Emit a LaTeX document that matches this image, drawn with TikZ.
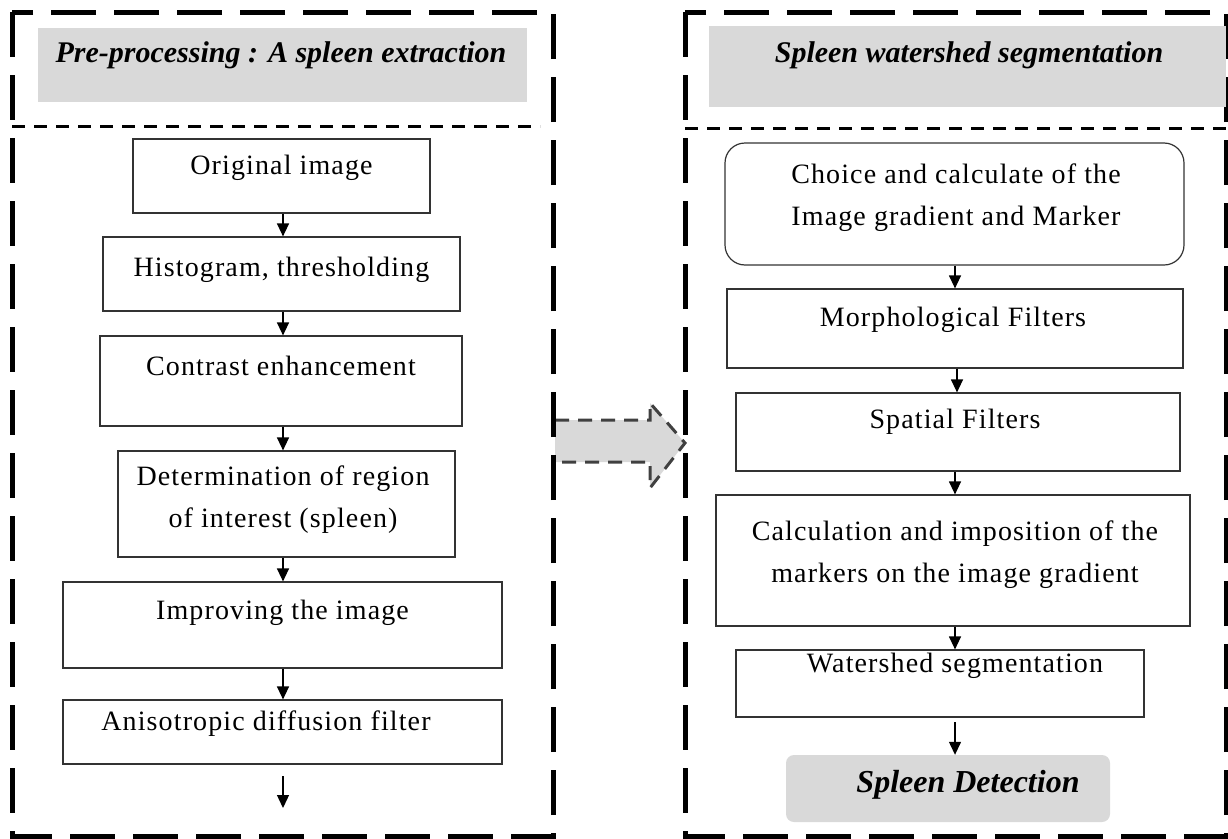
\documentclass[tikz,border=0pt]{standalone}
\usepackage{fontspec}
\setmainfont{Liberation Serif}
\newfontfamily\stepfont[LetterSpace=4]{Liberation Serif}
\usetikzlibrary{arrows.meta}
\definecolor{headgray}{RGB}{217,217,217}
\definecolor{arrgray}{RGB}{64,64,64}
\tikzset {
  % outer dashed frames
  frame/.style = {
    draw = black,
    line width = 5pt,
    dash pattern = on 45pt off 18pt
  },
  sep line/.style = {
    draw = black,
    line width = 3pt,
    dash pattern = on 13pt off 9pt
  },
  head box/.style = {
    fill = headgray,
    inner sep = 0
  },
  head text/.style = {
    font = \fontsize{30}{34}\selectfont\bfseries\itshape
  },
  % processing step
  stepbox/.style = {
    draw = black!80,
    line width = 1.2pt,
    inner sep = 0
  },
  steptext/.style = {
    font = \stepfont\fontsize{28}{42}\selectfont,
    align = center,
    inner sep = 0
  },
  arr/.style = {
    draw = black,
    line width = 1.3pt,
    -{Triangle[length=13pt,width=12pt]}
  }
}

\begin{document}
\begin{tikzpicture}[x=1pt, y=-1pt]
  \useasboundingbox (0,0) rectangle (1228,838);

  % arrow between the two stages
  \fill[headgray] (555,420) -- (650,420) -- (650,403) -- (685,443)
    -- (650,488) -- (650,462) -- (555,462) -- cycle;
  \draw[arrgray, line width=3pt, dash pattern=on 14pt off 9pt]
    (555,420) -- (650,420) -- (650,403) -- (685,443)
    -- (650,488) -- (650,462) -- (555,462);

  % left stage
  \draw[frame] (12,12) rectangle (553,836);
  \node[head box, minimum width=489pt, minimum height=74pt] (lhead) at (282.5,65) {};
  \node[head text] (lheadt) at (281,55) {Pre-processing : A spleen extraction};
  \draw[sep line] (12,126) -- (540,126);

  \node[stepbox, minimum width=297pt, minimum height=74pt] (a1) at (281.5,176) {};
  \node[steptext] (a1t) at (281.5,168) {Original image};
  \node[stepbox, minimum width=357pt, minimum height=74pt] (a2) at (281.5,274) {};
  \node[steptext] (a2t) at (281.5,270) {Histogram, thresholding};
  \node[stepbox, minimum width=362pt, minimum height=90pt] (a3) at (281,381) {};
  \node[steptext] (a3t) at (281,366) {Contrast enhancement};
  \node[stepbox, minimum width=337pt, minimum height=106pt] (a4) at (286.5,504) {};
  \node[steptext] (a4t) at (283,499.5) {Determination of region\\of interest (spleen)};
  \node[stepbox, minimum width=439pt, minimum height=86pt] (a5) at (282.5,625) {};
  \node[steptext] (a5t) at (282.5,613) {Improving the image};
  \node[stepbox, minimum width=439pt, minimum height=64pt] (a6) at (282.5,732) {};
  \node[steptext] (a6t) at (266,724) {Anisotropic diffusion filter};
  \coordinate (lstart) at (283,776);
  \coordinate (lend) at (283,808);

  \draw[arr] (a1.south -| 283,0) -- (a2.north -| 283,0);
  \draw[arr] (a2.south -| 283,0) -- (a3.north -| 283,0);
  \draw[arr] (a3.south -| 283,0) -- (a4.north -| 283,0);
  \draw[arr] (a4.south -| 283,0) -- (a5.north -| 283,0);
  \draw[arr] (a5.south -| 283,0) -- (a6.north -| 283,0);
  \draw[arr] (lstart) -- (lend);

  % right stage
  \draw[frame] (685,12) rectangle (1226,836);
  \node[head box, minimum width=517pt, minimum height=81pt] (rhead) at (967.5,66.5) {};
  \node[head text] (rheadt) at (969,55) {Spleen watershed segmentation};
  \draw[sep line] (685,128) -- (1228,128);

  \node[stepbox, rounded corners=20pt, minimum width=459pt, minimum height=122pt] (b1) at (954.5,204) {};
  \node[steptext] (b1t) at (956,198) {Choice and calculate of the\\Image gradient and Marker};
  \node[stepbox, minimum width=456pt, minimum height=79pt] (b2) at (955,328.5) {};
  \node[steptext] (b2t) at (953,320) {Morphological Filters};
  \node[stepbox, minimum width=444pt, minimum height=78pt] (b3) at (958,432) {};
  \node[steptext] (b3t) at (955,422) {Spatial Filters};
  \node[stepbox, minimum width=474pt, minimum height=131pt] (b4) at (953,560.5) {};
  \node[steptext] (b4t) at (955,555) {Calculation and imposition of the\\markers on the image gradient};
  \node[stepbox, minimum width=408pt, minimum height=67pt] (b5) at (940,683.5) {};
  \node[steptext] (b5t) at (955,666) {Watershed segmentation};
  \node[head box, rounded corners=8pt, minimum width=324pt, minimum height=67pt] (b6) at (948,788.5) {};
  \node[head text, font=\fontsize{32}{34}\selectfont\bfseries\itshape] (b6t) at (968,785) {Spleen Detection};
  \coordinate (rstart) at (955,722);

  \draw[arr] (b1.south -| 955,0) -- (b2.north -| 955,0);
  \draw[arr] (b2.south -| 957,0) -- (b3.north -| 957,0);
  \draw[arr] (b3.south -| 955,0) -- (b4.north -| 955,0);
  \draw[arr] (b4.south -| 955,0) -- (b5.north -| 955,0);
  \draw[arr] (rstart) -- (b6.north -| 955,0);
\end{tikzpicture}
\end{document}
